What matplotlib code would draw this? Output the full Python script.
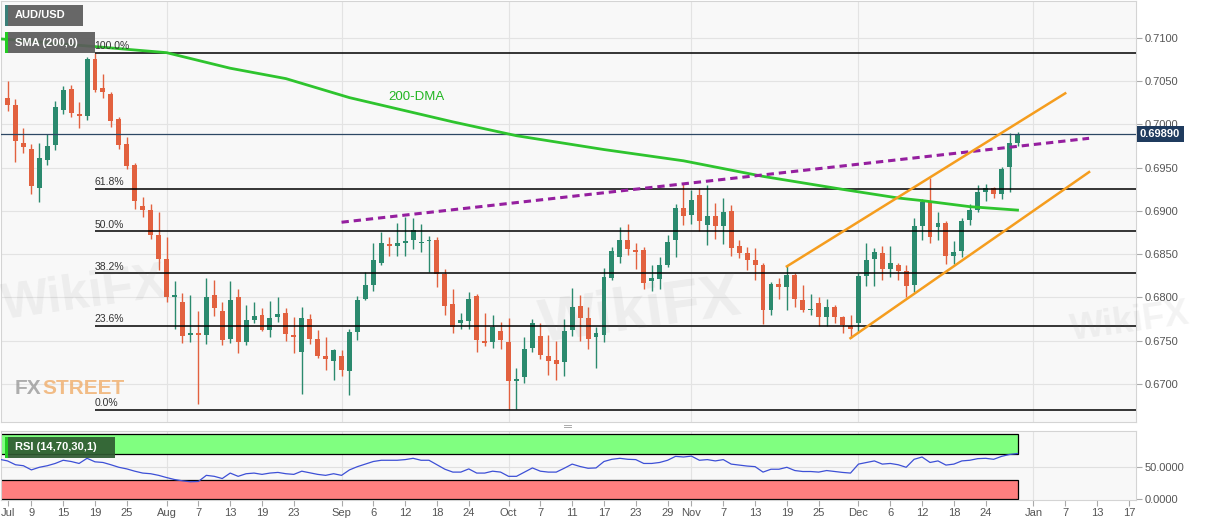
import numpy as np
import pandas as pd
import matplotlib
matplotlib.use('Agg')
import matplotlib.pyplot as plt
import matplotlib.transforms as mtransforms
from matplotlib.patches import Rectangle

plt.rcParams['font.family'] = ['Liberation Sans', 'DejaVu Sans']

# daily AUD/USD candles, 3 Jul - 30 Dec 2019
dates = pd.bdate_range('2019-07-03', '2019-12-30')
opens = [0.6994, 0.7031, 0.7022, 0.6978, 0.6972, 0.6927, 0.6959, 0.6976, 0.7017, 0.7041,
         0.7011, 0.7010, 0.7076, 0.7042, 0.7035, 0.7006, 0.6977, 0.6953, 0.6906, 0.6901,
         0.6872, 0.6845, 0.6801, 0.6795, 0.6757, 0.6759, 0.6757, 0.6803, 0.6784, 0.6752,
         0.6800, 0.6748, 0.6774, 0.6780, 0.6763, 0.6778, 0.6782, 0.6757, 0.6737, 0.6775,
         0.6752, 0.6732, 0.6727, 0.6732, 0.6715, 0.6760, 0.6798, 0.6815, 0.6840, 0.6862,
         0.6860, 0.6863, 0.6866, 0.6863, 0.6865, 0.6866, 0.6827, 0.6793, 0.6771, 0.6773,
         0.6802, 0.6750, 0.6748, 0.6761, 0.6748, 0.6704, 0.6708, 0.6742, 0.6756, 0.6732,
         0.6728, 0.6725, 0.6762, 0.6790, 0.6776, 0.6754, 0.6757, 0.6822, 0.6847, 0.6867,
         0.6854, 0.6855, 0.6819, 0.6821, 0.6837, 0.6866, 0.6903, 0.6895, 0.6918, 0.6884,
         0.6894, 0.6883, 0.6900, 0.6860, 0.6851, 0.6843, 0.6837, 0.6786, 0.6816, 0.6812,
         0.6826, 0.6797, 0.6785, 0.6794, 0.6778, 0.6789, 0.6777, 0.6767, 0.6771, 0.6825,
         0.6844, 0.6852, 0.6833, 0.6838, 0.6831, 0.6814, 0.6883, 0.6910, 0.6882, 0.6886,
         0.6848, 0.6854, 0.6889, 0.6901, 0.6922, 0.6926, 0.6920, 0.6951, 0.6979]
highs = [0.7044, 0.7050, 0.7030, 0.6996, 0.6977, 0.6978, 0.6989, 0.7027, 0.7044, 0.7046,
         0.7026, 0.7078, 0.7083, 0.7058, 0.7038, 0.7009, 0.6985, 0.6956, 0.6916, 0.6908,
         0.6899, 0.6870, 0.6819, 0.6805, 0.6803, 0.6784, 0.6822, 0.6820, 0.6795, 0.6819,
         0.6810, 0.6791, 0.6795, 0.6788, 0.6796, 0.6800, 0.6788, 0.6778, 0.6789, 0.6781,
         0.6763, 0.6754, 0.6741, 0.6739, 0.6764, 0.6802, 0.6830, 0.6863, 0.6876, 0.6870,
         0.6886, 0.6893, 0.6892, 0.6885, 0.6871, 0.6870, 0.6833, 0.6810, 0.6782, 0.6806,
         0.6804, 0.6782, 0.6780, 0.6772, 0.6776, 0.6718, 0.6754, 0.6775, 0.6771, 0.6757,
         0.6750, 0.6775, 0.6811, 0.6803, 0.6789, 0.6766, 0.6834, 0.6858, 0.6881, 0.6885,
         0.6863, 0.6858, 0.6837, 0.6847, 0.6872, 0.6908, 0.6931, 0.6924, 0.6926, 0.6930,
         0.6909, 0.6915, 0.6907, 0.6866, 0.6858, 0.6857, 0.6840, 0.6818, 0.6823, 0.6836,
         0.6828, 0.6815, 0.6804, 0.6800, 0.6798, 0.6791, 0.6779, 0.6780, 0.6828, 0.6863,
         0.6857, 0.6859, 0.6859, 0.6840, 0.6838, 0.6892, 0.6914, 0.6938, 0.6899, 0.6888,
         0.6865, 0.6892, 0.6908, 0.6930, 0.6931, 0.6928, 0.6951, 0.6990, 0.6991]
lows = [0.6992, 0.7015, 0.6957, 0.6967, 0.6920, 0.6910, 0.6953, 0.6970, 0.7012, 0.7009,
        0.6996, 0.7005, 0.7037, 0.7031, 0.6997, 0.6972, 0.6949, 0.6902, 0.6893, 0.6868,
        0.6832, 0.6795, 0.6764, 0.6747, 0.6749, 0.6677, 0.6746, 0.6779, 0.6745, 0.6747,
        0.6736, 0.6745, 0.6771, 0.6761, 0.6754, 0.6772, 0.6750, 0.6736, 0.6689, 0.6746,
        0.6730, 0.6716, 0.6705, 0.6709, 0.6687, 0.6751, 0.6797, 0.6807, 0.6838, 0.6848,
        0.6848, 0.6848, 0.6856, 0.6853, 0.6829, 0.6812, 0.6780, 0.6759, 0.6764, 0.6764,
        0.6737, 0.6744, 0.6742, 0.6741, 0.6671, 0.6671, 0.6701, 0.6737, 0.6729, 0.6710,
        0.6705, 0.6709, 0.6755, 0.6750, 0.6741, 0.6719, 0.6749, 0.6820, 0.6840, 0.6849,
        0.6833, 0.6810, 0.6808, 0.6810, 0.6835, 0.6847, 0.6884, 0.6885, 0.6877, 0.6861,
        0.6868, 0.6862, 0.6848, 0.6846, 0.6832, 0.6820, 0.6769, 0.6780, 0.6798, 0.6785,
        0.6789, 0.6783, 0.6780, 0.6767, 0.6767, 0.6771, 0.6759, 0.6753, 0.6759, 0.6813,
        0.6813, 0.6820, 0.6824, 0.6820, 0.6801, 0.6806, 0.6867, 0.6863, 0.6867, 0.6839,
        0.6839, 0.6847, 0.6884, 0.6899, 0.6912, 0.6915, 0.6914, 0.6922, 0.6975]
closes = [0.7038, 0.7022, 0.6981, 0.6974, 0.6929, 0.6961, 0.6975, 0.7020, 0.7040, 0.7013,
          0.7010, 0.7076, 0.7040, 0.7037, 0.7004, 0.6976, 0.6952, 0.6911, 0.6901, 0.6872,
          0.6845, 0.6801, 0.6803, 0.6756, 0.6758, 0.6757, 0.6801, 0.6788, 0.6751, 0.6797,
          0.6748, 0.6774, 0.6779, 0.6763, 0.6776, 0.6781, 0.6758, 0.6754, 0.6776, 0.6752,
          0.6732, 0.6729, 0.6739, 0.6716, 0.6760, 0.6797, 0.6815, 0.6843, 0.6863, 0.6860,
          0.6863, 0.6865, 0.6878, 0.6864, 0.6866, 0.6827, 0.6790, 0.6766, 0.6774, 0.6798,
          0.6751, 0.6747, 0.6766, 0.6751, 0.6704, 0.6706, 0.6741, 0.6770, 0.6734, 0.6727,
          0.6723, 0.6761, 0.6789, 0.6776, 0.6752, 0.6759, 0.6824, 0.6854, 0.6866, 0.6856,
          0.6853, 0.6817, 0.6822, 0.6838, 0.6864, 0.6903, 0.6894, 0.6913, 0.6888, 0.6894,
          0.6883, 0.6899, 0.6857, 0.6852, 0.6843, 0.6838, 0.6786, 0.6816, 0.6812, 0.6826,
          0.6798, 0.6785, 0.6786, 0.6778, 0.6789, 0.6777, 0.6768, 0.6764, 0.6825, 0.6843,
          0.6853, 0.6833, 0.6840, 0.6831, 0.6813, 0.6883, 0.6910, 0.6870, 0.6886, 0.6848,
          0.6853, 0.6888, 0.6901, 0.6922, 0.6927, 0.6920, 0.6949, 0.6979, 0.6989]

rsi = [61.1, 58.6, 52.7, 51.2, 44.8, 48.8, 51.2, 54.7, 59.6, 57.7,
       54.7, 62.6, 57.2, 56.2, 52.7, 48.8, 46.3, 42.8, 39.9, 38.9,
       36.4, 33.0, 30.0, 28.0, 26.5, 27.0, 36.4, 34.9, 31.5, 39.9,
       34.9, 38.9, 39.9, 37.9, 39.9, 40.9, 38.9, 37.9, 42.8, 40.4,
       37.9, 36.4, 38.9, 36.4, 44.8, 49.8, 53.7, 57.7, 59.6, 59.6,
       59.6, 60.6, 62.6, 59.6, 59.6, 52.7, 45.8, 41.4, 41.4, 46.3,
       39.9, 39.9, 42.8, 41.4, 34.9, 34.9, 41.4, 47.8, 42.8, 41.4,
       41.4, 47.3, 53.7, 50.0, 47.3, 47.8, 57.7, 61.1, 62.6, 61.1,
       60.6, 54.7, 54.7, 56.2, 59.6, 65.6, 64.6, 66.0, 59.6, 60.6,
       58.6, 60.6, 53.7, 52.2, 50.7, 49.8, 41.4, 45.8, 45.8, 48.8,
       43.8, 42.3, 42.3, 41.4, 43.8, 42.3, 40.9, 39.9, 53.7, 56.2,
       58.6, 53.7, 54.7, 52.7, 48.8, 61.1, 64.6, 56.2, 58.6, 52.2,
       53.7, 58.6, 59.6, 62.1, 62.6, 61.1, 65.6, 68.5, 70.0]
rsi_over, rsi_under = 70, 30

# 200-day SMA, read at a few bars
sma_bar = [0, 12, 21, 29, 36, 44, 57, 65, 76, 86, 96, 106, 113, 116, 122, 128]
sma_val = [0.7099, 0.7090, 0.7083, 0.7065, 0.7053, 0.7031, 0.7003, 0.6987, 0.6971,
           0.6958, 0.6940, 0.6925, 0.6915, 0.6912, 0.6905, 0.6901]

# drawn lines (bar index, price)
trend_bar, trend_val = [43, 137], [0.6887, 0.6984]
upper_bar, upper_val = [99, 134], [0.6836, 0.7036]
lower_bar, lower_val = [107, 137], [0.6753, 0.6945]

fib_high, fib_low, fib_start = 0.7083, 0.6670, 12
fib_ratios = [1.0, 0.618, 0.5, 0.382, 0.236, 0.0]
fib_labels = ['100.0%', '61.8%', '50.0%', '38.2%', '23.6%', '0.0%']
last_price = 0.6989

tick_days = ['2019-07-01', '2019-07-09', '2019-07-15', '2019-07-19', '2019-07-25',
             '2019-08-01', '2019-08-07', '2019-08-13', '2019-08-19', '2019-08-23',
             '2019-09-02', '2019-09-06', '2019-09-12', '2019-09-18', '2019-09-24',
             '2019-10-01', '2019-10-07', '2019-10-11', '2019-10-17', '2019-10-23',
             '2019-10-29', '2019-11-01', '2019-11-07', '2019-11-13', '2019-11-19',
             '2019-11-25', '2019-12-02', '2019-12-06', '2019-12-12', '2019-12-18',
             '2019-12-24', '2020-01-01', '2020-01-07', '2020-01-13', '2020-01-17']
tick_text = ['Jul', '9', '15', '19', '25', 'Aug', '7', '13', '19', '23', 'Sep', '6', '12',
             '18', '24', 'Oct', '7', '11', '17', '23', '29', 'Nov', '7', '13', '19', '25',
             'Dec', '6', '12', '18', '24', 'Jan', '7', '13', '17']

UP, DOWN = '#2b8a6e', '#e2613f'
W, H = 1207, 526

fig = plt.figure(figsize=(W / 100, H / 100), dpi=100)
ax = fig.add_axes([1 / W, 1 - 422 / H, 1135 / W, 421 / H])
rax = fig.add_axes([1 / W, 1 - 500 / H, 1135 / W, 69 / H], sharex=ax)

# bar positions, extended past the last candle for the axis labels
axis_days = pd.bdate_range(dates[0], '2020-01-17')
n = len(dates)
idx = np.arange(n)
xlim = (0.18, 142.9)
tick_pos = [max(axis_days.searchsorted(pd.Timestamp(d)) - (pd.Timestamp(d) < dates[0]) * 3,
                xlim[0] + 0.9) for d in tick_days]
month_pos = [p for p, t in zip(tick_pos, tick_text) if not t.isdigit() and t != 'Jul']

for a in (ax, rax):
    a.set_facecolor('#f8f8f8')
    for s in a.spines.values():
        s.set_color('#d4d4d4')
        s.set_linewidth(0.8)
    for p in month_pos:
        a.axvline(p, color='#e3e3e3', lw=0.8, zorder=0)

# candles
o, h, l, c = map(np.array, (opens, highs, lows, closes))
cols = np.where(c >= o, UP, DOWN)
ax.vlines(idx, l, h, colors=cols, lw=1, zorder=2)
ax.bar(idx, np.maximum(np.abs(c - o), 0.00016), bottom=np.minimum(o, c), width=0.62,
       color=cols, lw=0, zorder=2)

# grid, fib levels and price line
yt = np.arange(0.6700, 0.71001, 0.005)
for y in yt:
    ax.axhline(y, color='#e3e3e3', lw=0.8, zorder=0)
for r, lab in zip(fib_ratios, fib_labels):
    lv = fib_low + r * (fib_high - fib_low)
    ax.hlines(lv, fib_start, xlim[1], color='black', lw=1.1, zorder=3)
    ax.text(fib_start - 0.05, lv + 0.0002, lab, fontsize=7.5, color='#333333',
            ha='left', va='bottom', zorder=4)
ax.axhline(last_price, color='#2c4764', lw=0.9, zorder=3)

ax.plot(sma_bar, sma_val, color='#2ec42e', lw=2, zorder=3)
ax.text(52.4, 0.7032, '200-DMA', color='#21b521', fontsize=9.5, ha='center', va='center')
ax.plot(trend_bar, trend_val, color='#951f9f', lw=2.2, dashes=(2.4, 1.6), zorder=4)
ax.plot(upper_bar, upper_val, color='#f59d1e', lw=1.8, zorder=4)
ax.plot(lower_bar, lower_val, color='#f59d1e', lw=1.8, zorder=4)

ax.set_xlim(*xlim)
ax.set_ylim(0.66561, 0.71427)
ax.yaxis.tick_right()
ax.set_yticks(yt)
ax.set_yticklabels(['%.4f' % v for v in yt])
ax.tick_params(axis='y', length=4, width=0.8, color='#aaaaaa', pad=2, labelsize=8,
               labelcolor='#555555')
ax.tick_params(axis='x', bottom=False, labelbottom=False)

tr = mtransforms.blended_transform_factory(ax.transAxes, ax.transData)
ax.text(1 + 4 / 1135, last_price, '%.5f' % last_price, transform=tr, color='white',
        fontsize=8, fontweight='bold', ha='left', va='center', clip_on=False,
        bbox=dict(boxstyle='square,pad=0.3', fc='#1f3b5e', ec='none'))

# RSI panel
rax.add_patch(Rectangle((-1, rsi_over), n, 100 - rsi_over, fc='#80ff80', ec='black', lw=0.9,
                        zorder=1))
rax.add_patch(Rectangle((-1, 0), n, rsi_under, fc='#ff7f7f', ec='black', lw=0.9, zorder=1))
rax.axhline(50, color='#e0e0e0', lw=0.8, zorder=0)
rax.plot(idx, rsi, color='#3d50d6', lw=0.9, zorder=3)
rax.set_ylim(-1.5, 104.6)
rax.yaxis.tick_right()
rax.set_yticks([0, 50])
rax.set_yticklabels(['0.0000', '50.0000'])
rax.tick_params(axis='y', length=4, width=0.8, color='#aaaaaa', pad=2, labelsize=8,
                labelcolor='#555555')
rax.set_xticks(tick_pos)
rax.set_xticklabels(tick_text)
rax.tick_params(axis='x', length=4, width=0.8, color='#aaaaaa', pad=2, labelsize=8,
                labelcolor='#555555')
rax.set_xlim(*xlim)


def tag(x, y, w, hh, text, bar, fc):
    fig.add_artist(Rectangle((x / W, 1 - (y + hh) / H), w / W, hh / H, transform=fig.transFigure,
                             fc=fc, ec='none', alpha=0.92, zorder=10))
    fig.add_artist(Rectangle((x / W, 1 - (y + hh) / H), 2.5 / W, hh / H,
                             transform=fig.transFigure, fc=bar, ec='none', zorder=11))
    fig.text((x + 10) / W, 1 - (y + hh / 2) / H, text, color='white', fontsize=8,
             fontweight='bold', ha='left', va='center', zorder=12)


tag(5, 5, 78, 21, 'AUD/USD', '#3a7f78', '#5b5b5b')
tag(5, 32, 90, 21, 'SMA (200,0)', '#22cc22', '#5b5b5b')
tag(5, 437, 110, 21, 'RSI (14,70,30,1)', '#22cc22', '#2f5b31')

# faint watermarks, kept inside the picture
for x, y, fs in [(85, 295, 36), (640, 312, 44), (1130, 322, 26)]:
    fig.text(x / W, 1 - y / H, 'WikiFX', fontsize=fs, fontweight='bold', color='#7a7a7a',
             alpha=0.09, ha='center', va='center', rotation=8, zorder=1)
fig.text(15 / W, 1 - 389 / H, 'FX', fontsize=15, fontweight='bold', color='#9a9a9a',
         alpha=0.8, ha='left', va='center')
fig.text(42 / W, 1 - 389 / H, 'STREET', fontsize=15, fontweight='bold', color='#f0ad6a',
         alpha=0.8, ha='left', va='center')
fig.text(568 / W, 1 - 427 / H, '═', fontsize=8, color='#999999', ha='center', va='center')

fig.savefig('out.png', dpi=100)
